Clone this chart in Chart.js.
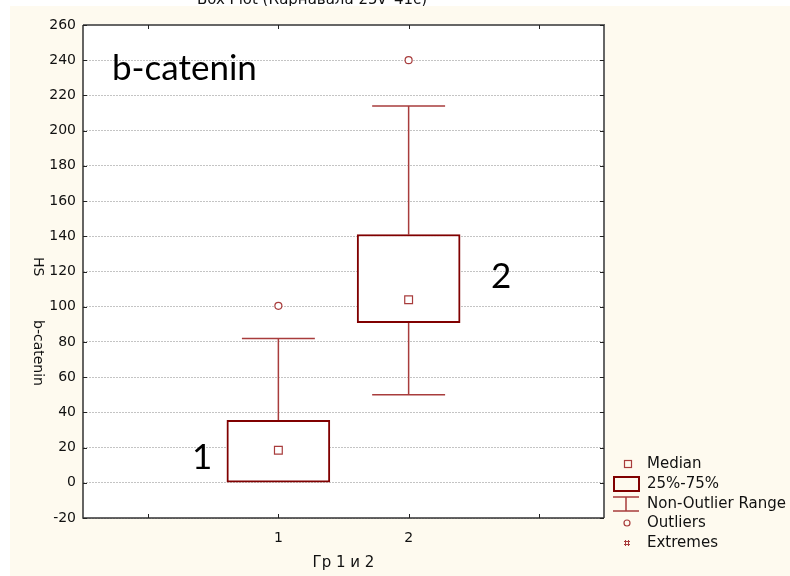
<!DOCTYPE html>
<html>
<head>
<meta charset="utf-8">
<script src="https://cdn.jsdelivr.net/npm/chart.js@4"></script>
<style>
  body { margin: 0; background: #fff; }
  canvas { display: block; }
</style>
</head>
<body>
<canvas id="c" width="790" height="576"></canvas>
<script>
// box plot values
const groups = [1, 2];
const q1 = [0, 91];
const q3 = [35.5, 141];
const medians = [18.5, 104];
const lowWhisker = [0, 50];
const highWhisker = [82, 214];
const outliers = [[100.5], [240]];
const xTickValues = [0, 1, 2, 3];
const xTickLabels = { 1: '1', 2: '2' };
const legendItems = ['Median', '25%-75%', 'Non-Outlier Range', 'Outliers', 'Extremes'];

const boxColor = '#800000';
const lineColor = '#a83c3c';
const font = '"DejaVu Sans", Arial, sans-serif';
const bigFont = '35px Lato, "Open Sans", sans-serif';

const extras = {
    id: 'extras',
    beforeDraw(chart) {
        const c = chart.ctx, a = chart.chartArea;
        c.save();
        c.fillStyle = '#fff';
        c.fillRect(0, 0, chart.width, chart.height);
        // cut-off title at the very top
        c.fillStyle = '#111';
        c.font = '15px ' + font;
        c.textAlign = 'center';
        c.textBaseline = 'alphabetic';
        c.fillText('Box Plot (Карнавала 25v*41c)', 312, 4);
        c.fillStyle = '#fefaef';
        c.fillRect(10, 6, chart.width - 10, chart.height - 6);
        c.fillStyle = '#fff';
        c.fillRect(a.left, a.top, a.right - a.left, a.bottom - a.top);
        c.restore();
    },
    beforeDatasetsDraw(chart) {
        const c = chart.ctx, x = chart.scales.x, y = chart.scales.y;
        const capHalf = (x.getPixelForValue(1.28) - x.getPixelForValue(1)) ;
        c.save();
        c.strokeStyle = lineColor;
        c.lineWidth = 1.5;
        groups.forEach((g, i) => {
            const px = x.getPixelForValue(g);
            c.beginPath();
            c.moveTo(px, y.getPixelForValue(q3[i]));
            c.lineTo(px, y.getPixelForValue(highWhisker[i]));
            c.moveTo(px - capHalf, y.getPixelForValue(highWhisker[i]));
            c.lineTo(px + capHalf, y.getPixelForValue(highWhisker[i]));
            if (lowWhisker[i] < q1[i]) {
                c.moveTo(px, y.getPixelForValue(q1[i]));
                c.lineTo(px, y.getPixelForValue(lowWhisker[i]));
                c.moveTo(px - capHalf, y.getPixelForValue(lowWhisker[i]));
                c.lineTo(px + capHalf, y.getPixelForValue(lowWhisker[i]));
            }
            c.stroke();
        });
        c.restore();
    },
    afterDraw(chart) {
        const c = chart.ctx, a = chart.chartArea, x = chart.scales.x, y = chart.scales.y;
        c.save();
        // frame
        c.lineWidth = 2;
        c.strokeStyle = '#666';
        c.beginPath();
        c.moveTo(a.left, a.top); c.lineTo(a.right, a.top); c.lineTo(a.right, a.bottom);
        c.stroke();
        c.strokeStyle = '#333';
        c.lineWidth = 1.5;
        c.beginPath();
        c.moveTo(a.left, a.top); c.lineTo(a.left, a.bottom); c.lineTo(a.right, a.bottom);
        c.stroke();
        // inward ticks
        c.lineWidth = 1;
        c.strokeStyle = '#222';
        c.beginPath();
        y.ticks.forEach(t => {
            const py = Math.round(y.getPixelForValue(t.value)) + 0.5;
            c.moveTo(a.left, py); c.lineTo(a.left + 4, py);
            c.moveTo(a.right, py); c.lineTo(a.right - 4, py);
        });
        x.ticks.forEach(t => {
            const px = Math.round(x.getPixelForValue(t.value)) + 0.5;
            c.moveTo(px, a.bottom); c.lineTo(px, a.bottom - 4);
            c.moveTo(px, a.top); c.lineTo(px, a.top + 4);
        });
        c.stroke();

        // y axis title pieces, rotated
        c.fillStyle = '#111';
        c.font = '14px ' + font;
        c.textAlign = 'left';
        c.textBaseline = 'middle';
        [['HS', 257], ['b-catenin', 320]].forEach(([txt, top]) => {
            c.save();
            c.translate(38, top);
            c.rotate(Math.PI / 2);
            c.fillText(txt, 0, 0);
            c.restore();
        });

        // annotations
        c.font = bigFont;
        c.fillStyle = '#000';
        c.textBaseline = 'alphabetic';
        c.fillText('b-catenin', 112, 80);
        c.fillText('1', 192, 469);
        c.fillText('2', 491, 288);

        // legend
        const lx = 628, tx = 647;
        const rows = [464, 484, 504, 523, 543];
        c.font = '15px ' + font;
        c.textBaseline = 'middle';
        c.fillStyle = '#111';
        legendItems.forEach((t, i) => c.fillText(t, tx, rows[i]));
        c.strokeStyle = lineColor;
        c.lineWidth = 1.2;
        c.strokeRect(lx - 3.5, rows[0] - 3.5, 7, 7);
        c.strokeStyle = boxColor;
        c.lineWidth = 2;
        c.strokeRect(614, 477, 25, 14);
        c.strokeStyle = lineColor;
        c.lineWidth = 1.5;
        c.beginPath();
        c.moveTo(613, 497); c.lineTo(639, 497);
        c.moveTo(626, 497); c.lineTo(626, 511);
        c.moveTo(613, 511); c.lineTo(639, 511);
        c.stroke();
        c.lineWidth = 1.2;
        c.beginPath();
        c.arc(lx - 1, rows[3], 3, 0, Math.PI * 2);
        c.stroke();
        c.lineWidth = 1;
        c.beginPath();
        const ex = lx - 1, ey = rows[4];
        c.moveTo(ex - 3, ey - 1.5); c.lineTo(ex + 3, ey - 1.5);
        c.moveTo(ex - 3, ey + 1.5); c.lineTo(ex + 3, ey + 1.5);
        c.moveTo(ex - 1.5, ey - 3); c.lineTo(ex - 1.5, ey + 3);
        c.moveTo(ex + 1.5, ey - 3); c.lineTo(ex + 1.5, ey + 3);
        c.stroke();
        c.restore();
    }
};

const outlierPoints = [];
groups.forEach((g, i) => outliers[i].forEach(v => outlierPoints.push({ x: g, y: v })));

new Chart(document.getElementById('c'), {
    type: 'bar',
    data: {
        datasets: [
            {
                type: 'scatter',
                label: 'Median',
                data: groups.map((g, i) => ({ x: g, y: medians[i] })),
                pointStyle: 'rect',
                pointRadius: 5.5,
                pointBorderWidth: 1.2,
                pointBorderColor: lineColor,
                pointBackgroundColor: 'rgba(0,0,0,0)',
                order: 0
            },
            {
                type: 'scatter',
                label: 'Outliers',
                data: outlierPoints,
                pointStyle: 'circle',
                pointRadius: 3.5,
                pointBorderWidth: 1.2,
                pointBorderColor: lineColor,
                pointBackgroundColor: '#fff',
                order: 0
            },
            {
                type: 'bar',
                label: '25%-75%',
                data: groups.map((g, i) => ({ x: g, y: [q1[i], q3[i]] })),
                barThickness: 103,
                backgroundColor: '#fff',
                borderColor: boxColor,
                borderWidth: 2,
                borderSkipped: false,
                order: 1
            }
        ]
    },
    options: {
        responsive: false,
        devicePixelRatio: 1,
        animation: false,
        layout: { padding: { left: 10, top: 25, right: 186, bottom: 0 } },
        plugins: {
            legend: { display: false },
            tooltip: { enabled: false }
        },
        scales: {
            x: {
                type: 'linear',
                min: -0.5,
                max: 3.5,
                offset: false,
                afterFit: s => { s.height = 58; },
                afterBuildTicks: s => { s.ticks = xTickValues.map(v => ({ value: v })); },
                grid: { display: false },
                border: { display: false },
                ticks: {
                    autoSkip: false,
                    maxRotation: 0,
                    padding: 4,
                    color: '#111',
                    font: { family: font, size: 14 },
                    callback: v => xTickLabels[v] || ''
                },
                title: {
                    display: true,
                    text: 'Гр 1 и 2',
                    color: '#111',
                    font: { family: font, size: 15 },
                    padding: { top: 2, bottom: 4 }
                }
            },
            y: {
                min: -20,
                max: 260,
                afterFit: s => { s.width = 73; },
                grid: { color: '#c4c4c4', drawTicks: false, lineWidth: 1 },
                border: { display: false, dash: [2, 1] },
                ticks: {
                    stepSize: 20,
                    padding: 7,
                    color: '#111',
                    font: { family: font, size: 14 }
                }
            }
        }
    },
    plugins: [extras]
});
</script>
</body>
</html>
